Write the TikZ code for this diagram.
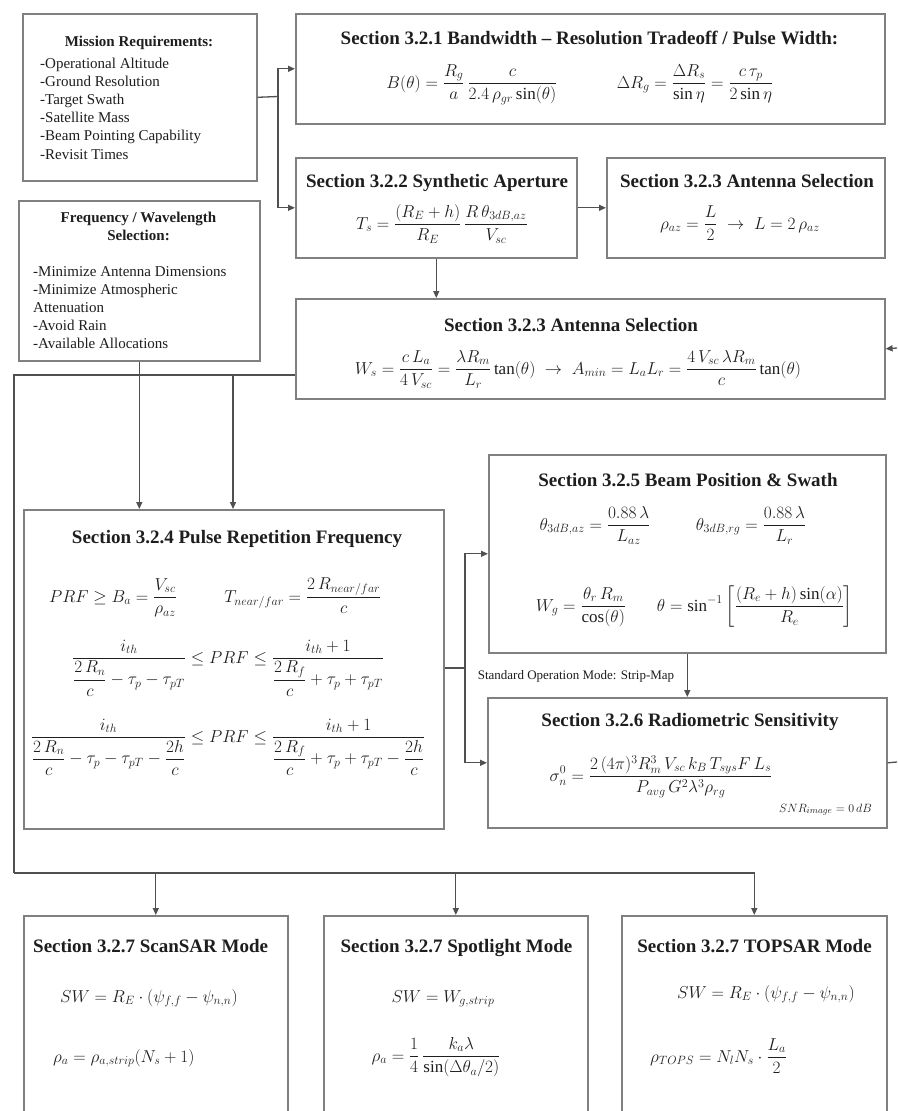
\documentclass[tikz,border=0pt]{standalone}
\usepackage{fontspec}
\setmainfont{Liberation Serif}
\usepackage{amsmath}
\usetikzlibrary{arrows.meta,calc}
\definecolor{boxgray}{RGB}{128,128,128}
\definecolor{linegray}{RGB}{80,80,80}
\definecolor{txtcol}{RGB}{30,30,30}
\begin{document}
\begin{tikzpicture}[x=1pt,y=-1pt,
  box/.style={draw=boxgray, line width=1.6pt, fill=white, inner sep=0pt, anchor=north west},
  conn/.style={draw=linegray, line width=1.3pt},
  arr/.style={conn, -{Triangle[length=7pt,width=6pt]}},
  ttl/.style={font=\fontsize{19}{22}\selectfont\bfseries, inner sep=0pt, anchor=base, text=txtcol},
  sttl/.style={font=\fontsize{15}{18}\selectfont\bfseries, inner sep=0pt, anchor=base, text=txtcol},
  txt/.style={font=\fontsize{15}{18}\selectfont, inner sep=0pt, anchor=base west, text=txtcol},
  lbl/.style={font=\fontsize{13}{15}\selectfont, inner sep=0pt, anchor=base, text=txtcol},
  eq/.style={font=\fontsize{17}{20}\selectfont, inner sep=0pt, anchor=base, text=txtcol},
]
\useasboundingbox[fill=white] (0,0) rectangle (897,1111);

% ---------- boxes ----------
\node[box, minimum width=234pt, minimum height=167pt] (mission) at (22,13) {};
\node[box, minimum width=241pt, minimum height=160pt] (freq) at (18,200) {};
\node[box, minimum width=589pt, minimum height=110pt] (b321) at (295,13) {};
\node[box, minimum width=281pt, minimum height=100pt] (b322) at (295,157) {};
\node[box, minimum width=278pt, minimum height=100pt] (b323s) at (606,157) {};
\node[box, minimum width=589pt, minimum height=100pt] (b323b) at (295,298) {};
\node[box, minimum width=420pt, minimum height=319pt] (b324) at (23,509) {};
\node[box, minimum width=397pt, minimum height=198pt] (b325) at (488,454) {};
\node[box, minimum width=399pt, minimum height=130pt] (b326) at (487,697) {};
\node[box, minimum width=264pt, minimum height=200pt] (b7a) at (23,915) {};
\node[box, minimum width=264pt, minimum height=200pt] (b7b) at (323,915) {};
\node[box, minimum width=265pt, minimum height=200pt] (b7c) at (621,915) {};

% ---------- mission requirements ----------
\node[sttl] (mt) at (139,46) {Mission Requirements:};
\node[txt] (mi1) at (40,68) {-Operational Altitude};
\node[txt] (mi2) at (40,86.2) {-Ground Resolution};
\node[txt] (mi3) at (40,104.4) {-Target Swath};
\node[txt] (mi4) at (40,122.6) {-Satellite Mass};
\node[txt] (mi5) at (40,140.8) {-Beam Pointing Capability};
\node[txt] (mi6) at (40,159) {-Revisit Times};

% ---------- frequency ----------
\node[sttl] (ft1) at (138.5,222) {Frequency / Wavelength};
\node[sttl] (ft2) at (138.5,240) {Selection:};
\node[txt] (fi1) at (33,276) {-Minimize Antenna Dimensions};
\node[txt] (fi2) at (33,294) {-Minimize Atmospheric};
\node[txt] (fi3) at (33,312) {Attenuation};
\node[txt] (fi4) at (33,330) {-Avoid Rain};
\node[txt] (fi5) at (33,348) {-Available Allocations};

% ---------- 3.2.1 ----------
\node[ttl] (t321) at (589.5,44.5) {Section 3.2.1 Bandwidth -- Resolution Tradeoff / Pulse Width:};
\node[eq] (e321a) at (472,88) {$\displaystyle B(\theta) = \frac{R_g}{a}\,\frac{c}{2.4\,\rho_{gr}\sin(\theta)}$};
\node[eq] (e321b) at (695,88) {$\displaystyle \Delta R_g = \frac{\Delta R_s}{\sin\eta} = \frac{c\,\tau_p}{2\sin\eta}$};

% ---------- 3.2.2 ----------
\node[ttl] (t322) at (437,187.5) {Section 3.2.2 Synthetic Aperture};
\node[eq] (e322) at (442,229) {$\displaystyle T_s = \frac{(R_E+h)}{R_E}\,\frac{R\,\theta_{3dB,az}}{V_{sc}}$};

% ---------- 3.2.3 small ----------
\node[ttl] (t323s) at (747,187.5) {Section 3.2.3 Antenna Selection};
\node[eq] (e323s) at (740,229) {$\displaystyle \rho_{az} = \frac{L}{2}\;\rightarrow\; L = 2\,\rho_{az}$};

% ---------- 3.2.3 big ----------
\node[ttl] (t323b) at (571,331.5) {Section 3.2.3 Antenna Selection};
\node[eq] (e323b) at (578,374) {$\displaystyle W_s = \frac{c\,L_a}{4\,V_{sc}} = \frac{\lambda R_m}{L_r}\tan(\theta) \;\rightarrow\; A_{min} = L_a L_r = \frac{4\,V_{sc}\,\lambda R_m}{c}\tan(\theta)$};

% ---------- 3.2.4 ----------
\node[ttl] (t324) at (237,543.5) {Section 3.2.4 Pulse Repetition Frequency};
\node[eq] (e324a) at (113,602) {$\displaystyle PRF \geq B_a = \frac{V_{sc}}{\rho_{az}}$};
\node[eq] (e324b) at (303,602) {$\displaystyle T_{near/far} = \frac{2\,R_{near/far}}{c}$};
\node[eq] (e324c) at (228,663) {$\displaystyle \frac{i_{th}}{\dfrac{2\,R_n}{c}-\tau_p-\tau_{pT}} \leq PRF \leq \frac{i_{th}+1}{\dfrac{2\,R_f}{c}+\tau_p+\tau_{pT}}$};
\node[eq] (e324d) at (228,742) {$\displaystyle \frac{i_{th}}{\dfrac{2\,R_n}{c}-\tau_p-\tau_{pT}-\dfrac{2h}{c}} \leq PRF \leq \frac{i_{th}+1}{\dfrac{2\,R_f}{c}+\tau_p+\tau_{pT}-\dfrac{2h}{c}}$};

% ---------- 3.2.5 ----------
\node[ttl] (t325) at (688,486.5) {Section 3.2.5 Beam Position \& Swath};
\node[eq] (e325a) at (595,530) {$\displaystyle \theta_{3dB,az} = \frac{0.88\,\lambda}{L_{az}}$};
\node[eq] (e325b) at (751,530) {$\displaystyle \theta_{3dB,rg} = \frac{0.88\,\lambda}{L_r}$};
\node[eq] (e325c) at (581,611) {$\displaystyle W_g = \frac{\theta_r\,R_m}{\cos(\theta)}$};
\node[eq] (e325d) at (755,611) {$\displaystyle \theta = \sin^{-1}\left[\frac{(R_e+h)\sin(\alpha)}{R_e}\right]$};

% ---------- 3.2.6 ----------
\node[ttl] (t326) at (690,726.5) {Section 3.2.6 Radiometric Sensitivity};
\node[eq] (e326a) at (661,781) {$\displaystyle \sigma_n^0 = \frac{2\,(4\pi)^3 R_m^3\, V_{sc}\, k_B\, T_{sys} F\, L_s}{P_{avg}\, G^2 \lambda^3 \rho_{rg}}$};
\node[eq, anchor=base east, font=\fontsize{13}{15}\selectfont] (e326b) at (872,812) {$SNR_{image} = 0\,dB$};

% ---------- 3.2.7 ----------
\node[ttl, anchor=base west] (t7a) at (33,952.5) {Section 3.2.7 ScanSAR Mode};
\node[eq, anchor=base west] (e7a1) at (60,1002) {$SW = R_E\cdot(\psi_{f,f}-\psi_{n,n})$};
\node[eq, anchor=base west] (e7a2) at (53,1062) {$\rho_a = \rho_{a,strip}(N_s+1)$};

\node[ttl] (t7b) at (456.5,952.5) {Section 3.2.7 Spotlight Mode};
\node[eq] (e7b1) at (443,1002) {$SW = W_{g,strip}$};
\node[eq] (e7b2) at (436,1061) {$\displaystyle \rho_a = \frac{1}{4}\,\frac{k_a\lambda}{\sin(\Delta\theta_a/2)}$};

\node[ttl] (t7c) at (754.5,952.5) {Section 3.2.7 TOPSAR Mode};
\node[eq, anchor=base west] (e7c1) at (677,998) {$SW = R_E\cdot(\psi_{f,f}-\psi_{n,n})$};
\node[eq, anchor=base west] (e7c2) at (650,1062) {$\displaystyle \rho_{TOPS} = N_l N_s\cdot\frac{L_a}{2}$};

% ---------- connectors ----------
\coordinate (j1) at (278,96.5);
\draw[conn] (mission.east) -- (j1);
\draw[arr] (j1) |- (b321.west);
\draw[arr] (j1) |- (b322.west);
\draw[arr] (b322.east) -- (b323s.west);
\draw[arr] (b322.south) -- (b322.south |- b323b.north);
\draw[arr] (freq.south) -- (freq.south |- b324.north);

\coordinate (k2) at (14,375);
\coordinate (k3) at (14,873);
\coordinate (k4) at (233,375);
\draw[conn] (b323b.west |- k2) -- (k2) -- (k3);
\draw[arr] (k4) -- (k4 |- b324.north);
\draw[arr] (k3) -| (b7c.north);
\draw[arr] (b7a.north |- k3) -- (b7a.north);
\draw[arr] (b7b.north |- k3) -- (b7b.north);

\coordinate (m1) at (465,668);
\draw[conn] (b324.east |- m1) -- (m1);
\draw[arr] (m1) |- (b325.west);
\draw[arr] (m1) |- (b326.west);
\draw[arr] (b325.south) -- (b325.south |- b326.north);
\node[lbl] (smode) at (576,679) {Standard Operation Mode: Strip-Map};

\coordinate (e1) at (897,762);
\draw[conn] (b326.east) -- (e1);
\coordinate (e2) at (897,348);
\draw[arr] (e2) -- (b323b.east);
\end{tikzpicture}
\end{document}
